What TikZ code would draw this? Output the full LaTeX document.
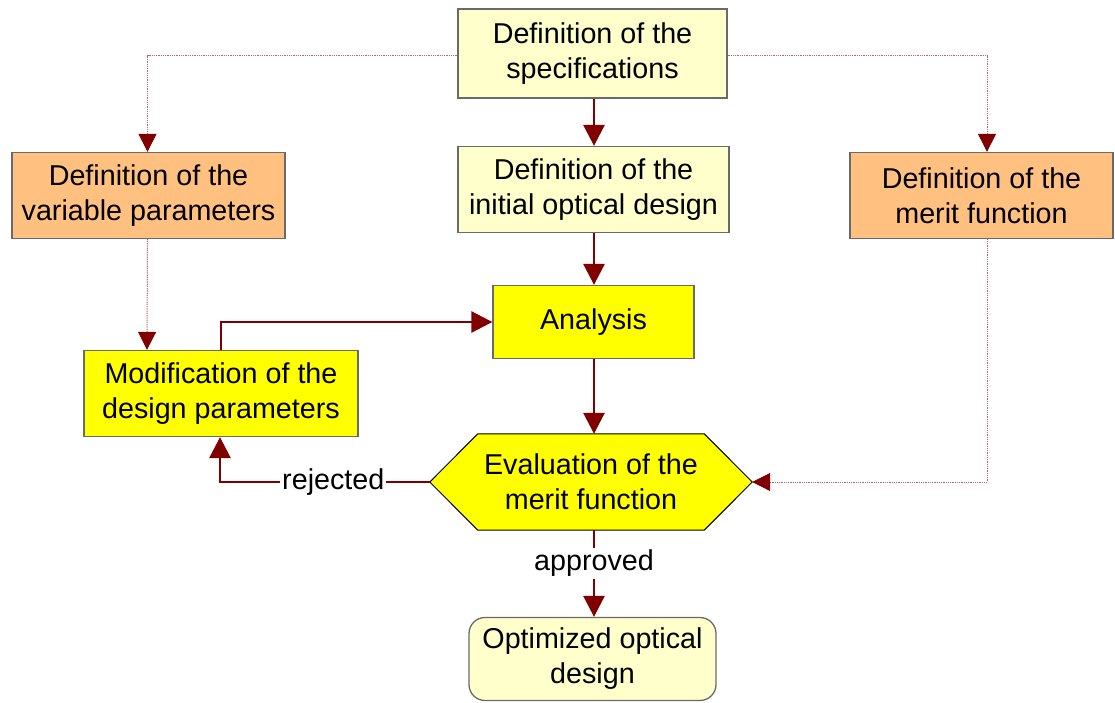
\documentclass[tikz,border=0pt]{standalone}
\usepackage{fontspec}
\setmainfont{Liberation Sans}
\usetikzlibrary{arrows.meta,backgrounds}
\definecolor{darkred}{HTML}{800000}
\definecolor{thinred}{HTML}{B06A6A}
\definecolor{paleyellow}{HTML}{FFFFCC}
\definecolor{lightorange}{HTML}{FFC080}
\definecolor{vivid}{HTML}{FFFF00}
\definecolor{boxedge}{HTML}{6A6A6A}
\begin{document}
\begin{tikzpicture}[x=1pt,y=-1pt,
  font=\fontsize{28.7}{35}\selectfont,
  box/.style={draw=boxedge,line width=1.3pt,align=center,inner sep=0pt},
  pale/.style={box,fill=paleyellow},
  orange/.style={box,fill=lightorange},
  bright/.style={box,fill=vivid},
  mainflow/.style={-{Triangle[length=21pt,width=21pt]},draw=darkred,line width=2.8pt},
  sideflow/.style={draw=thinred,line width=1pt,dash pattern=on 1pt off 0.8pt,
    -{Triangle[length=18pt,width=18pt,color=darkred,fill=darkred]}},
  lbl/.style={fill=white,inner sep=2pt}]
\useasboundingbox (0,0) rectangle (1115,702);

% boxes
\node[pale,minimum width=269pt,minimum height=89pt] (spec) at (592.5,53.5) {Definition of the\\specifications};
\node[orange,minimum width=273pt,minimum height=86pt] (vars) at (148.5,195.5) {Definition of the\\variable parameters};
\node[pale,minimum width=271pt,minimum height=86pt] (init) at (593.5,189.5) {Definition of the\\initial optical design};
\node[orange,minimum width=263pt,minimum height=86pt] (meritdef) at (981.5,195.5) {Definition of the\\merit function};
\node[bright,minimum width=201pt,minimum height=73pt] (analysis) at (593.5,322) {Analysis};
\node[bright,minimum width=274pt,minimum height=86pt] (modif) at (221,393.5) {Modification of the\\design parameters};
\node[align=center,inner sep=0pt,minimum width=322pt,minimum height=96pt] (eval) at (591,482) {Evaluation of the\\merit function};
\node[pale,rounded corners=16pt,minimum width=247pt,minimum height=83pt] (opt) at (592.5,659) {Optimized optical\\design};

% hexagonal decision shape behind the evaluation text
\begin{scope}[on background layer]
  \draw[fill=vivid,draw=black,line width=1pt]
    (eval.west) -- ([xshift=48pt]eval.north west) -- ([xshift=-48pt]eval.north east)
    -- (eval.east) -- ([xshift=-48pt]eval.south east) -- ([xshift=48pt]eval.south west) -- cycle;
\end{scope}

% main flow
\draw[mainflow] ([xshift=1.5pt]spec.south) -- ([xshift=0.5pt]init.north);
\draw[mainflow] ([xshift=0.5pt]init.south) -- ([xshift=0.5pt]analysis.north);
\draw[mainflow] ([xshift=0.5pt]analysis.south) -- ([xshift=3pt]eval.north);
\draw[mainflow] (modif.north) |- (analysis.west);
\draw[mainflow] (eval.west) -| node[lbl,pos=0.23] {rejected} ([xshift=-1pt]modif.south);
\draw[mainflow] ([xshift=3pt]eval.south) -- node[lbl,pos=0.38] {approved} ([xshift=1.5pt]opt.north);

% secondary inputs
\draw[sideflow] ([yshift=-2pt]spec.west) -| ([xshift=-1pt]vars.north);
\draw[sideflow] ([yshift=-2pt]spec.east) -| ([xshift=5.5pt]meritdef.north);
\draw[sideflow] ([xshift=-1pt]vars.south) -- ([xshift=-74pt]modif.north);
\draw[sideflow] ([xshift=5.5pt]meritdef.south) |- (eval.east);
\end{tikzpicture}
\end{document}
